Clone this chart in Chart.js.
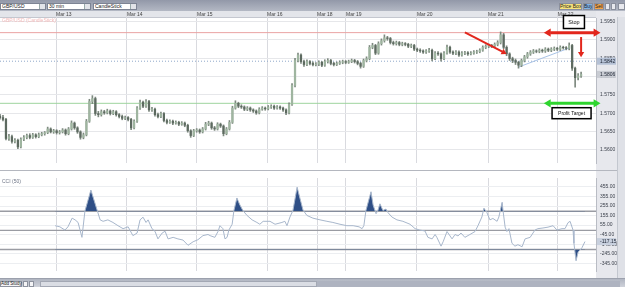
<!DOCTYPE html>
<html>
<head>
<meta charset="utf-8">
<script src="https://cdn.jsdelivr.net/npm/chart.js@4.4.1/dist/chart.umd.min.js"></script>
<style>
  body { margin: 0; width: 625px; height: 287px; overflow: hidden; background: #fff; position: relative;
         font-family: Arial, "Liberation Sans", sans-serif; }
  #toolbar { position: absolute; left: 0; top: 0; width: 625px; height: 11px; background: linear-gradient(#9298a8, #b3b8c4); }
  .dd { position: absolute; top: 3px; height: 7px; background: #fff; border: 1px solid #7d8494; box-sizing: border-box;
        font-size: 5px; line-height: 5px; padding-left: 1px; color: #222; white-space: nowrap; }
  .dd i { position: absolute; right: 0; top: 0; width: 5px; height: 5px; background: #e2e4e9; border-left: 1px solid #9aa; }
  .tb { position: absolute; top: 3px; height: 7px; box-sizing: border-box; font-size: 5px; line-height: 5px;
        text-align: center; border: 1px solid #8a8f9c; color: #222; white-space: nowrap; overflow: hidden; }
  #pricePane { position: absolute; left: 0; top: 11px; width: 625px; height: 159px; }
  #cciPane { position: absolute; left: 0; top: 171px; width: 625px; height: 107px; }
  #sep { position: absolute; left: 0; top: 170px; width: 625px; height: 1px; background: #b4b7bf; }
  #bottom { position: absolute; left: 0; top: 278px; width: 625px; height: 9px; background: linear-gradient(#b0b5c1, #cfd2da);
            border-top: 1px solid #9ca1ad; box-sizing: border-box; }
  .btn { position: absolute; top: 2px; height: 6px; background: #f4f4f6; border: 1px solid #8d929e; box-sizing: border-box;
         font-size: 4.5px; line-height: 4px; text-align: center; color: #222; white-space: nowrap; }
  #track { position: absolute; left: 40px; top: 2px; width: 580px; height: 6px; background: #aeb3c0; }
  #thumb { position: absolute; left: 40px; top: 2px; width: 277px; height: 6px; background: #dadde4; border: 1px solid #a3a8b4; box-sizing: border-box; }
  #vscroll { position: absolute; left: 617px; top: 17px; width: 8px; height: 261px; background: #dfe1e7; border-left: 1px solid #c3c7cf; box-sizing: border-box; }
</style>
</head>
<body>
<div id="toolbar">
  <div class="dd" style="left:0;width:46px">GBP/USD<i></i></div>
  <div class="dd" style="left:47px;width:44px">30 min<i></i></div>
  <div class="dd" style="left:93px;width:44px">CandleStick<i></i></div>
  <div class="tb" style="left:559px;width:23px;background:#f6e27c">Price Box</div>
  <div class="tb" style="left:583px;width:10px;background:#7fb2e6">Buy</div>
  <div class="tb" style="left:594px;width:10px;background:#f3a64b">Sell</div>
  <div class="tb" style="left:605px;width:5px;background:#e8e9ee"></div>
  <div class="tb" style="left:611px;width:5px;background:#e8e9ee"></div>
  <div class="tb" style="left:618px;width:7px;background:#e8e9ee"></div>
</div>
<div id="pricePane"><canvas id="price"></canvas></div>
<div id="sep"></div>
<div id="cciPane"><canvas id="cci"></canvas></div>
<div id="vscroll"></div>
<div id="bottom">
  <div class="btn" style="left:0;width:22px">Add Study</div>
  <div class="btn" style="left:23px;width:5px"></div>
  <div class="btn" style="left:29px;width:5px"></div>
  <div id="track"></div>
  <div id="thumb"></div>
</div>
<script>
Chart.defaults.font.family = 'Arial, "Liberation Sans", sans-serif';

// day separators (bar index) and their labels
const DAY_POS = [18.8, 42.6, 66.1, 89.6, 106.4, 116.1, 139.9, 163.8, 187.2];
const DAY_LABELS = ['Mar 13', 'Mar 14', 'Mar 15', 'Mar 16', 'Mar 18', 'Mar 19', 'Mar 20', 'Mar 21', 'Mar 22'];

// GBP/USD 30 min candles
const FIRST_OPEN = 1.5692;
const CLOSE = [
  1.5688,1.5683,1.5631,1.5636,1.5623,1.5626,1.5608,1.5629,1.5634,1.5639,
  1.5634,1.5641,1.5636,1.5641,1.5644,1.5647,1.5657,1.5649,1.5652,1.5647,
  1.5649,1.5654,1.5644,1.5657,1.5673,1.5660,1.5649,1.5634,1.5641,1.5678,
  1.5732,1.5740,1.5699,1.5696,1.5704,1.5701,1.5706,1.5699,1.5704,1.5696,
  1.5691,1.5686,1.5688,1.5683,1.5660,1.5678,1.5714,1.5730,1.5719,1.5732,
  1.5709,1.5711,1.5696,1.5691,1.5699,1.5680,1.5675,1.5678,1.5673,1.5675,
  1.5670,1.5673,1.5667,1.5652,1.5639,1.5652,1.5654,1.5649,1.5657,1.5670,
  1.5673,1.5660,1.5657,1.5670,1.5665,1.5644,1.5657,1.5675,1.5714,1.5727,
  1.5719,1.5717,1.5711,1.5714,1.5709,1.5706,1.5701,1.5711,1.5714,1.5712,
  1.5717,1.5719,1.5714,1.5717,1.5714,1.5709,1.5701,1.5724,1.5776,1.5844,
  1.5859,1.5841,1.5833,1.5841,1.5836,1.5833,1.5834,1.5839,1.5831,1.5841,
  1.5844,1.5836,1.5833,1.5836,1.5839,1.5841,1.5839,1.5841,1.5844,1.5841,
  1.5836,1.5828,1.5844,1.5849,1.5880,1.5885,1.5864,1.5890,1.5898,1.5906,
  1.5904,1.5893,1.5890,1.5893,1.5888,1.5890,1.5888,1.5883,1.5885,1.5875,
  1.5872,1.5870,1.5867,1.5870,1.5872,1.5849,1.5864,1.5862,1.5849,1.5864,
  1.5880,1.5867,1.5864,1.5867,1.5859,1.5864,1.5865,1.5862,1.5864,1.5867,
  1.5868,1.5872,1.5880,1.5883,1.5885,1.5883,1.5888,1.5893,1.5914,1.5880,
  1.5862,1.5849,1.5844,1.5839,1.5831,1.5844,1.5854,1.5862,1.5867,1.5870,
  1.5869,1.5872,1.5870,1.5875,1.5872,1.5875,1.5877,1.5875,1.5880,1.5879,
  1.5877,1.5885,1.5823,1.5797,1.5802,1.5806
];
const HIGH = [
  1.5697,1.5694,1.5686,1.5642,1.5640,1.5631,1.5629,1.5633,1.5639,1.5643,
  1.5644,1.5645,1.5644,1.5646,1.5648,1.5650,1.5662,1.5660,1.5656,1.5655,
  1.5653,1.5658,1.5657,1.5661,1.5679,1.5676,1.5663,1.5652,1.5646,1.5683,
  1.5738,1.5748,1.5744,1.5705,1.5709,1.5708,1.5711,1.5709,1.5708,1.5707,
  1.5699,1.5695,1.5692,1.5691,1.5686,1.5682,1.5718,1.5736,1.5733,1.5737,
  1.5735,1.5716,1.5714,1.5700,1.5703,1.5702,1.5684,1.5682,1.5681,1.5679,
  1.5678,1.5677,1.5676,1.5670,1.5655,1.5656,1.5658,1.5657,1.5661,1.5675,
  1.5678,1.5676,1.5664,1.5674,1.5673,1.5668,1.5661,1.5680,1.5719,1.5734,
  1.5730,1.5723,1.5720,1.5718,1.5717,1.5712,1.5709,1.5715,1.5718,1.5717,
  1.5721,1.5723,1.5722,1.5721,1.5720,1.5717,1.5712,1.5728,1.5781,1.5850,
  1.5864,1.5862,1.5845,1.5846,1.5844,1.5840,1.5838,1.5843,1.5842,1.5846,
  1.5849,1.5847,1.5839,1.5840,1.5843,1.5845,1.5844,1.5845,1.5848,1.5847,
  1.5844,1.5839,1.5848,1.5854,1.5885,1.5891,1.5888,1.5895,1.5903,1.5914,
  1.5910,1.5907,1.5897,1.5897,1.5896,1.5894,1.5893,1.5891,1.5889,1.5888,
  1.5878,1.5876,1.5873,1.5874,1.5877,1.5875,1.5868,1.5868,1.5865,1.5868,
  1.5886,1.5883,1.5870,1.5871,1.5870,1.5868,1.5869,1.5868,1.5868,1.5871,
  1.5872,1.5876,1.5884,1.5887,1.5889,1.5888,1.5892,1.5898,1.5922,1.5918,
  1.5884,1.5865,1.5853,1.5848,1.5842,1.5848,1.5858,1.5866,1.5871,1.5874,
  1.5873,1.5876,1.5875,1.5879,1.5878,1.5879,1.5881,1.5880,1.5884,1.5883,
  1.5882,1.5892,1.5888,1.5826,1.5808,1.5812
];
const LOW = [
  1.5684,1.5679,1.5627,1.5626,1.5618,1.5619,1.5603,1.5605,1.5625,1.5630,
  1.5630,1.5631,1.5632,1.5633,1.5638,1.5640,1.5644,1.5646,1.5645,1.5643,
  1.5643,1.5646,1.5640,1.5641,1.5654,1.5656,1.5645,1.5629,1.5630,1.5638,
  1.5675,1.5726,1.5694,1.5690,1.5692,1.5697,1.5698,1.5695,1.5696,1.5692,
  1.5687,1.5682,1.5682,1.5679,1.5655,1.5657,1.5675,1.5710,1.5715,1.5716,
  1.5705,1.5705,1.5692,1.5687,1.5688,1.5676,1.5671,1.5672,1.5669,1.5670,
  1.5666,1.5667,1.5663,1.5648,1.5634,1.5636,1.5648,1.5645,1.5646,1.5654,
  1.5666,1.5656,1.5653,1.5654,1.5661,1.5638,1.5641,1.5654,1.5672,1.5711,
  1.5715,1.5713,1.5707,1.5707,1.5705,1.5702,1.5697,1.5698,1.5708,1.5708,
  1.5709,1.5713,1.5710,1.5711,1.5710,1.5705,1.5696,1.5698,1.5721,1.5772,
  1.5840,1.5836,1.5828,1.5830,1.5832,1.5829,1.5829,1.5830,1.5827,1.5828,
  1.5837,1.5832,1.5829,1.5830,1.5833,1.5835,1.5835,1.5836,1.5838,1.5837,
  1.5832,1.5823,1.5825,1.5840,1.5846,1.5876,1.5860,1.5861,1.5886,1.5894,
  1.5899,1.5889,1.5886,1.5886,1.5884,1.5884,1.5884,1.5879,1.5879,1.5871,
  1.5868,1.5866,1.5863,1.5863,1.5866,1.5843,1.5846,1.5858,1.5842,1.5846,
  1.5861,1.5863,1.5860,1.5860,1.5855,1.5856,1.5860,1.5858,1.5859,1.5861,
  1.5863,1.5865,1.5869,1.5876,1.5879,1.5879,1.5879,1.5884,1.5889,1.5876,
  1.5857,1.5844,1.5838,1.5833,1.5823,1.5827,1.5840,1.5850,1.5858,1.5863,
  1.5865,1.5865,1.5866,1.5866,1.5868,1.5868,1.5871,1.5871,1.5871,1.5875,
  1.5873,1.5873,1.5817,1.5771,1.5791,1.5798
];

const PRICE_TICKS = [1.5950, 1.5900, 1.5850, 1.5800, 1.5750, 1.5700, 1.5650, 1.5600];
const STOP_LEVEL = 1.5920;
const ENTRY_LEVEL = 1.5842;
const TARGET_LEVEL = 1.5727;
const LAST_PRICE = 1.5806;
const TREND_BARS = [174, 191];
const TREND_PRICES = [1.5826, 1.5878];

// CCI (50)
const CCI_BARS = [18.5,20.1,21.8,22.8,24.2,25.2,26.2,27.5,28.5,29.5,30.5,32.6,33.6,34.6,36.2,37.9,39.6,41.3,43,44.6,
  46,47,48,49,49.7,51,52,53,54.4,55.4,56.4,58.1,59.7,61.4,63.1,64.8,66.4,68.1,69.8,70.5,
  72.1,73.2,73.8,74.8,75.5,76.2,76.8,77.9,78.5,79.5,80.5,81.5,82.9,84.6,86.2,87.2,88.3,90.6,92.3,94.6,
  95.6,96.3,97.3,98.3,99.7,101,101.7,103,105,107.4,109.7,111.7,114.1,116.4,118.5,120.5,121.5,122.1,122.8,124.5,
  125.2,126.2,126.8,127.5,128.5,129.5,130.2,131.5,133.2,135.2,137.6,139.3,140.9,142.6,143.6,145,146,146.6,148,148.7,
  150,151.7,152.7,153.7,154.7,156,157.7,159.4,160.4,161.7,162.4,163.4,164.4,165.4,166.8,167.4,168.5,168.8,169.5,170.1,
  170.8,171.8,172.8,173.8,175.2,176.2,177.9,179.5,180.5,182.2,183.9,185.6,186.9,188.6,189.6,190.6,191.3,192.3,192.6,193.3,
  194,195.3,196.3];
const CCI_VALUES = [49,37,3,37,128,110,83,-73,202,312,422,211,110,95,110,83,49,18,37,-55,
  -28,110,138,83,110,18,-9,-89,-28,-9,-89,-73,-89,-101,-156,-119,-98,-55,-43,-55,
  -73,-9,49,18,-89,-73,3,64,208,339,266,208,156,110,83,64,95,95,64,83,
  95,49,140,208,452,294,211,156,128,110,95,83,64,49,49,37,18,49,208,404,
  266,174,208,278,208,223,186,140,110,95,64,18,3,-6,-73,-89,-43,-73,-165,-119,
  -12,-89,-43,-58,-28,-73,-43,-12,49,140,232,186,110,125,95,140,294,208,34,-12,
  18,-135,-165,-150,-171,-89,-73,3,18,25,34,49,3,18,18,80,95,3,-135,-318,
  -227,-181,-117.15];
const CCI_TICKS = [455, 355, 255, 155, 55, -45, -145, -245, -345];
const CCI_LEVELS = [200, 0, -200];

const X_MIN = 0, X_MAX = 200;

// ---- helpers ----
function fixedWidth(w) { return ax => { ax.width = w; }; }
function fixedHeight(h) { return ax => { ax.height = h; }; }

function arrow(ctx, x1, y1, x2, y2, color, lw, head, both) {
  const ang = Math.atan2(y2 - y1, x2 - x1);
  const tipBack = (x, y, a) => [x - head * 0.8 * Math.cos(a), y - head * 0.8 * Math.sin(a)];
  const e = tipBack(x2, y2, ang);
  const s = both ? tipBack(x1, y1, ang + Math.PI) : [x1, y1];
  ctx.strokeStyle = color; ctx.fillStyle = color; ctx.lineWidth = lw;
  ctx.beginPath(); ctx.moveTo(s[0], s[1]); ctx.lineTo(e[0], e[1]); ctx.stroke();
  const drawHead = (x, y, a) => {
    ctx.beginPath(); ctx.moveTo(x, y);
    ctx.lineTo(x - head * Math.cos(a - 0.55), y - head * Math.sin(a - 0.55));
    ctx.lineTo(x - head * Math.cos(a + 0.55), y - head * Math.sin(a + 0.55));
    ctx.closePath(); ctx.fill();
  };
  drawHead(x2, y2, ang);
  if (both) drawHead(x1, y1, ang + Math.PI);
}

function labelBox(ctx, cx, cy, w, h, text, size) {
  ctx.fillStyle = '#fff'; ctx.fillRect(cx - w / 2, cy - h / 2, w, h);
  ctx.strokeStyle = '#000'; ctx.lineWidth = 1.5; ctx.strokeRect(cx - w / 2, cy - h / 2, w, h);
  ctx.fillStyle = '#111'; ctx.font = size + 'px Arial'; ctx.textAlign = 'center'; ctx.textBaseline = 'middle';
  ctx.fillText(text, cx, cy + 0.5);
}

function axisTag(chart, scaleId, value, text, fill) {
  const { ctx, chartArea: a } = chart;
  const y = chart.scales[scaleId].getPixelForValue(value);
  ctx.fillStyle = fill; ctx.fillRect(a.right + 1, y - 3.5, 19, 7);
  ctx.fillStyle = '#1d2433'; ctx.font = '5px Arial'; ctx.textAlign = 'left'; ctx.textBaseline = 'middle';
  ctx.fillText(text, a.right + 4, y + 0.3);
}

const paneBg = {
  id: 'paneBg',
  beforeDraw(chart, args, opts) {
    const { ctx, chartArea: a, width, height } = chart;
    ctx.save();
    ctx.fillStyle = '#fff'; ctx.fillRect(0, 0, width, height);
    ctx.fillStyle = '#e7e8ed'; ctx.fillRect(a.right, 0, width - a.right, height);
    if (opts.header) {
      ctx.fillStyle = '#e3e5ea'; ctx.fillRect(0, 0, a.right, a.top);
      ctx.fillStyle = '#c4c7cf'; ctx.fillRect(0, a.top - 1, a.right, 1);
    }
    ctx.restore();
  }
};

const priceDrawings = {
  id: 'priceDrawings',
  afterDraw(chart) {
    const { ctx } = chart;
    const X = v => chart.scales.x.getPixelForValue(v);
    const Y = v => chart.scales.y.getPixelForValue(v);
    ctx.save();
    ctx.fillStyle = '#f2b9b9'; ctx.font = '5px Arial'; ctx.textAlign = 'left'; ctx.textBaseline = 'middle';
    ctx.fillText('GBP/USD (CandleStick)', 2, chart.chartArea.top + 2.5);
    axisTag(chart, 'y', ENTRY_LEVEL, ENTRY_LEVEL.toFixed(4), '#b5c1d5');
    axisTag(chart, 'y', LAST_PRICE, LAST_PRICE.toFixed(4), '#c9ccd3');
    arrow(ctx, X(156), Y(1.5921), X(170), Y(1.5862), '#e2261c', 2, 6, false);
    arrow(ctx, X(182.5), Y(STOP_LEVEL), X(201.5), Y(STOP_LEVEL), '#e2261c', 3, 8, true);
    arrow(ctx, X(195), Y(1.5908), X(195), Y(1.5853), '#e2261c', 2, 6, false);
    arrow(ctx, X(182.5), Y(TARGET_LEVEL), X(201.5), Y(TARGET_LEVEL), '#2ed52e', 3, 8, true);
    labelBox(ctx, X(192.6), Y(1.5949), 21, 13, 'Stop', 5.5);
    labelBox(ctx, X(191.8), Y(1.5700), 39, 11, 'Profit Target', 5);
    ctx.restore();
  }
};

const cciDrawings = {
  id: 'cciDrawings',
  afterDraw(chart) {
    const { ctx } = chart;
    ctx.save();
    ctx.fillStyle = '#6f7687'; ctx.font = '5px Arial'; ctx.textAlign = 'left'; ctx.textBaseline = 'middle';
    ctx.fillText('CCI (50)', 2, chart.chartArea.top + 4);
    axisTag(chart, 'y', CCI_VALUES[CCI_VALUES.length - 1], CCI_VALUES[CCI_VALUES.length - 1].toFixed(2), '#c8d0de');
    ctx.restore();
  }
};

// ---- price pane ----
const opens = CLOSE.map((c, i) => i === 0 ? FIRST_OPEN : CLOSE[i - 1]);
const wickData = CLOSE.map((c, i) => ({ x: i, y: [LOW[i], HIGH[i]] }));
const bodyData = CLOSE.map((c, i) => ({ x: i, y: [opens[i], c] }));
const bodyColors = CLOSE.map((c, i) => c >= opens[i] ? '#9fb5a0' : '#5d6a60');
const levelLine = (v, color, dash) => ({
  type: 'line', data: [{ x: X_MIN, y: v }, { x: X_MAX, y: v }], borderColor: color, borderWidth: 1,
  borderDash: dash || [], pointRadius: 0, order: 5
});

new Chart(document.getElementById('price'), {
  type: 'bar',
  data: {
    datasets: [
      { data: wickData, backgroundColor: '#7d897f', barThickness: 1, grouped: false, order: 2 },
      { data: bodyData, backgroundColor: bodyColors, barThickness: 1.6, grouped: false, order: 1 },
      levelLine(STOP_LEVEL, '#eaa3a3'),
      levelLine(ENTRY_LEVEL, '#8ea7c9', [1, 2]),
      levelLine(TARGET_LEVEL, '#9fd49f'),
      { type: 'line', data: TREND_BARS.map((b, i) => ({ x: b, y: TREND_PRICES[i] })), borderColor: '#a9c3e6',
        borderWidth: 1, pointRadius: 0, order: 4 }
    ]
  },
  options: {
    responsive: true,
    maintainAspectRatio: false,
    animation: false,
    devicePixelRatio: 1,
    layout: { padding: 0 },
    plugins: { legend: { display: false }, tooltip: { enabled: false }, paneBg: { header: true } },
    scales: {
      x: {
        type: 'linear', position: 'top', min: X_MIN, max: X_MAX, offset: false,
        afterBuildTicks: ax => { ax.ticks = DAY_POS.map(v => ({ value: v })); },
        afterFit: fixedHeight(6),
        ticks: { callback: (v, i) => DAY_LABELS[i], align: 'start', font: { size: 5 }, color: '#444',
                 padding: -6, maxRotation: 0, autoSkip: false },
        grid: { color: '#d9dadf', tickLength: 6, drawTicks: true, offset: false },
        border: { display: false }
      },
      y: {
        position: 'right', min: 1.5564, max: 1.5960,
        afterBuildTicks: ax => { ax.ticks = PRICE_TICKS.map(v => ({ value: v })); },
        afterFit: fixedWidth(29),
        ticks: { callback: v => v.toFixed(4), font: { size: 5 }, color: '#3a3f4a', padding: 4 },
        grid: { color: '#e6e7ea', drawTicks: false },
        border: { color: '#b9bcc4' }
      }
    }
  },
  plugins: [paneBg, priceDrawings]
});

// ---- CCI pane ----
const cciPoints = CCI_BARS.map((b, i) => ({ x: b, y: CCI_VALUES[i] }));
const cciLevel = v => ({
  data: [{ x: X_MIN, y: v }, { x: X_MAX, y: v }], borderColor: '#9a9ca3', borderWidth: 1.3,
  pointRadius: 0, fill: false, order: 3
});

new Chart(document.getElementById('cci'), {
  type: 'line',
  data: {
    datasets: [
      ...CCI_LEVELS.map(cciLevel),
      { data: cciPoints, borderColor: '#a8b7cc', borderWidth: 1, pointRadius: 0, order: 1,
        fill: { target: { value: 200 }, above: '#2f4f86', below: 'rgba(0,0,0,0)' } },
      { data: cciPoints, borderColor: 'rgba(0,0,0,0)', borderWidth: 0, pointRadius: 0, order: 2,
        fill: { target: { value: -200 }, above: 'rgba(0,0,0,0)', below: '#2f4f86' } }
    ]
  },
  options: {
    responsive: true,
    maintainAspectRatio: false,
    animation: false,
    devicePixelRatio: 1,
    layout: { padding: 0 },
    plugins: { legend: { display: false }, tooltip: { enabled: false }, paneBg: { header: false } },
    scales: {
      x: {
        type: 'linear', min: X_MIN, max: X_MAX, offset: false,
        afterBuildTicks: ax => { ax.ticks = DAY_POS.map(v => ({ value: v })); },
        afterFit: fixedHeight(0),
        ticks: { display: false },
        grid: { color: '#d9dadf', drawTicks: false },
        border: { display: false }
      },
      y: {
        position: 'right', min: -425, max: 548,
        afterBuildTicks: ax => { ax.ticks = CCI_TICKS.map(v => ({ value: v })); },
        afterFit: fixedWidth(29),
        ticks: { callback: v => v.toFixed(2), font: { size: 5 }, color: '#3a3f4a', padding: 4 },
        grid: { color: '#eceef1', drawTicks: false },
        border: { color: '#b9bcc4' }
      }
    }
  },
  plugins: [paneBg, cciDrawings]
});
</script>
</body>
</html>
